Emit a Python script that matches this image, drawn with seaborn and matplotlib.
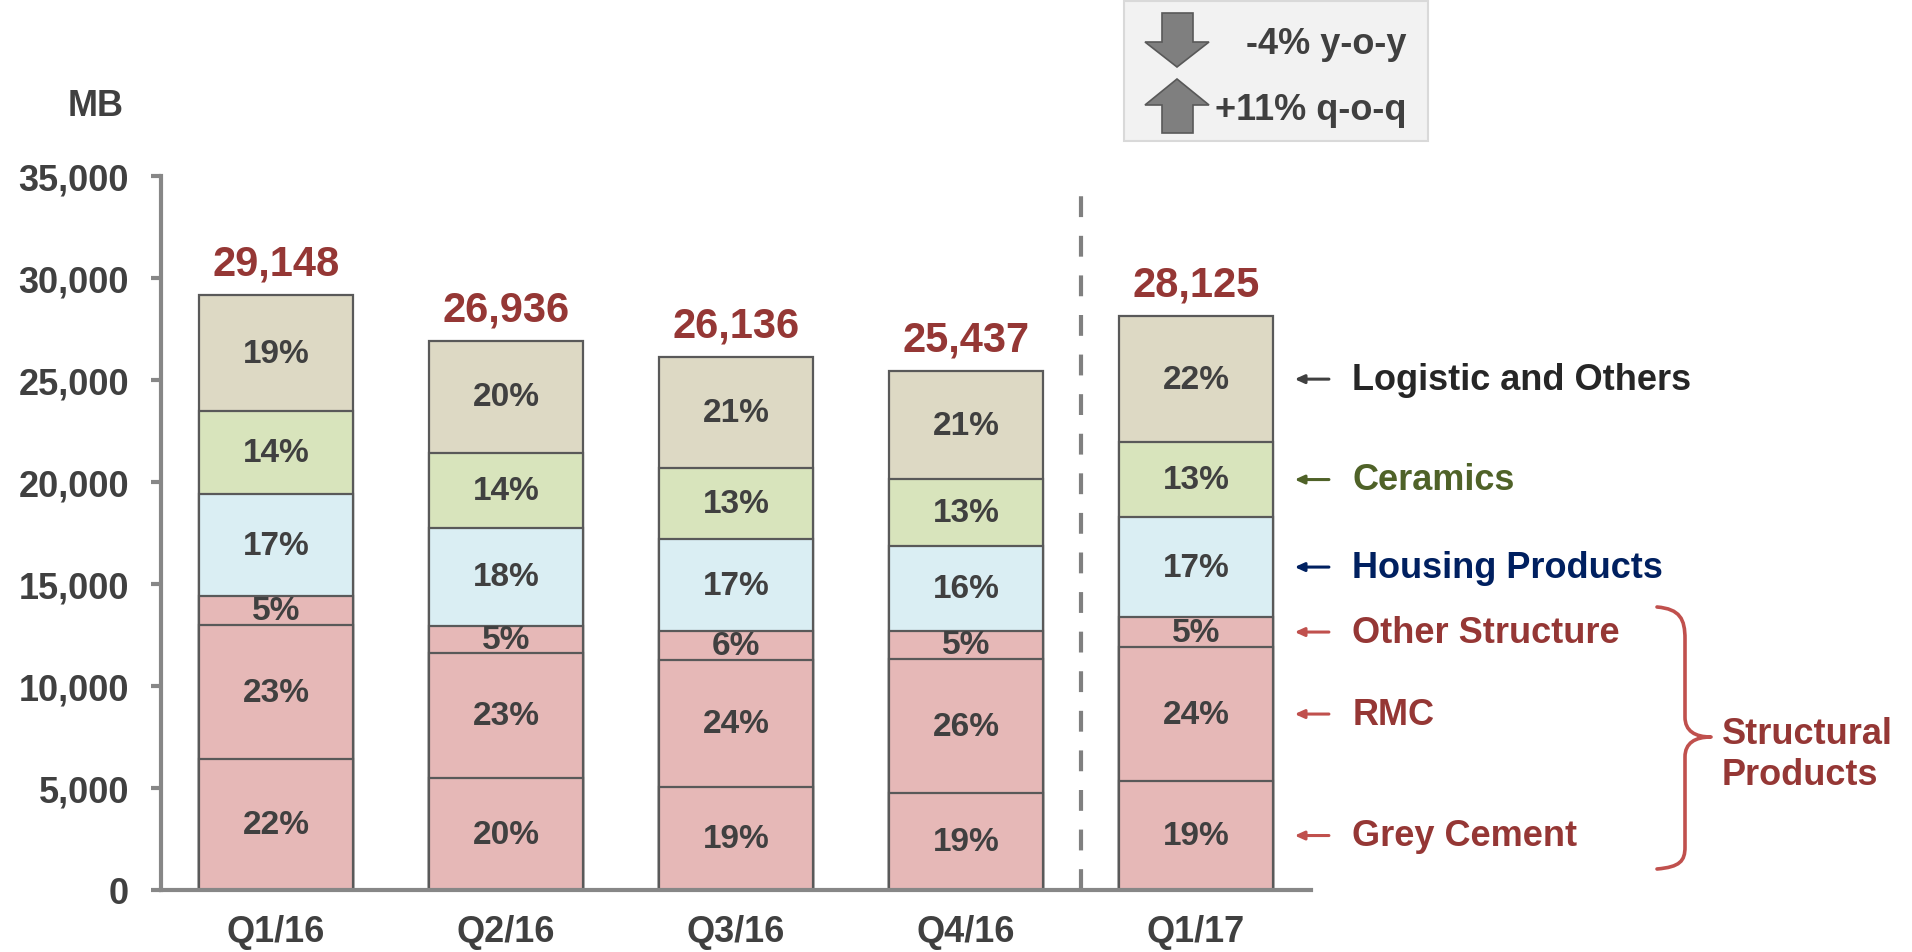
import matplotlib
matplotlib.use('Agg')
from matplotlib import pyplot as plt
from matplotlib.patches import Rectangle, Polygon, PathPatch
from matplotlib.path import Path
from matplotlib.ticker import FuncFormatter, FixedLocator
import numpy as np
import seaborn as sns

quarters = ['Q1/16', 'Q2/16', 'Q3/16', 'Q4/16', 'Q1/17']
totals = [29148, 26936, 26136, 25437, 28125]

# segment sizes (MB), bottom to top
grey_cement = [6420, 5490, 5050, 4750, 5340]
rmc = [6570, 6130, 6220, 6570, 6570]
other_structure = [1420, 1320, 1430, 1380, 1470]
housing = [5000, 4810, 4500, 4160, 4900]
ceramics = [4070, 3670, 3490, 3290, 3680]
logistic = [5668, 5516, 5446, 5287, 6165]

grey_cement_pct = ['22%', '20%', '19%', '19%', '19%']
rmc_pct = ['23%', '23%', '24%', '26%', '24%']
other_structure_pct = ['5%', '5%', '6%', '5%', '5%']
housing_pct = ['17%', '18%', '17%', '16%', '17%']
ceramics_pct = ['14%', '14%', '13%', '13%', '13%']
logistic_pct = ['19%', '20%', '21%', '21%', '22%']

segment_names = ['Grey Cement', 'RMC', 'Other Structure', 'Housing Products',
                 'Ceramics', 'Logistic and Others']
segments = [grey_cement, rmc, other_structure, housing, ceramics, logistic]
pct_labels = [grey_cement_pct, rmc_pct, other_structure_pct, housing_pct,
              ceramics_pct, logistic_pct]
fills = ['#E6B8B7', '#E6B8B7', '#E6B8B7', '#DAEEF3', '#D8E4BC', '#DDD9C4']
text_colors = ['#953735', '#953735', '#953735', '#002060', '#4F6228', '#262626']
arrow_colors = ['#C0504D', '#C0504D', '#C0504D', '#002060', '#4F6228', '#404040']

sns.set_style('white')
plt.rcParams['font.family'] = ['Liberation Sans', 'DejaVu Sans']
plt.rcParams['font.weight'] = 'bold'

fig = plt.figure(figsize=(19.12, 9.53), dpi=100)
ax = fig.add_axes([161 / 1912, 1 - 891 / 953, 1150 / 1912, 714 / 953])

vals = np.array(segments, dtype=float)
cum = np.cumsum(vals, axis=0)
bottoms = cum - vals

# stacked bars: draw cumulative heights from tallest to shortest
for k in range(len(segments) - 1, -1, -1):
    sns.barplot(x=quarters, y=cum[k], order=quarters, color=fills[k],
                saturation=1, width=0.67, edgecolor='#595959', linewidth=1.6,
                ax=ax)

for k in range(len(segments)):
    for i in range(len(quarters)):
        ax.text(i, bottoms[k, i] + vals[k, i] / 2, pct_labels[k][i],
                ha='center', va='center', fontsize=24, fontweight='bold',
                color='#404040')

for i, t in enumerate(totals):
    ax.text(i, t + 1000, f'{t:,}', ha='center', va='baseline', fontsize=30,
            fontweight='bold', color='#953735')

# divider before latest quarter
ax.vlines(len(quarters) - 1.5, 0, 34400, colors='#808080', lw=3,
          linestyles=(0, (5, 4.5)), zorder=0.5)

ax.set_xlim(-0.5, len(quarters) - 0.5)
ax.set_ylim(0, 35000)
ax.set_yticks(np.arange(0, 35001, 5000))
ax.yaxis.set_major_formatter(FuncFormatter(lambda v, _: f'{v:,.0f}'))
ax.xaxis.set_minor_locator(FixedLocator(np.arange(-0.5, len(quarters), 1.0)))
ax.tick_params(axis='x', which='major', length=0, pad=17, labelsize=26,
               labelcolor='#404040')
ax.tick_params(axis='x', which='minor', length=7, width=3, color='#878787',
               direction='out')
ax.tick_params(axis='y', length=7, width=3, color='#878787', direction='out',
               pad=16, labelsize=26, labelcolor='#404040')
ax.tick_params(left=True, bottom=True)
for lab in ax.get_xticklabels() + ax.get_yticklabels():
    lab.set_fontweight('bold')
ax.set_xlabel('')
ax.set_ylabel('')
for s in ['top', 'right']:
    ax.spines[s].set_visible(False)
for s in ['left', 'bottom']:
    ax.spines[s].set_color('#878787')
    ax.spines[s].set_linewidth(3)

# legend-like labels pointing at the last bar
last = len(quarters) - 1
for k in range(len(segments)):
    ymid = bottoms[k, last] + vals[k, last] / 2
    ax.annotate('', xy=(4.417, ymid), xytext=(4.59, ymid),
                arrowprops=dict(arrowstyle='-|>,head_length=0.55,head_width=0.25',
                                color=arrow_colors[k], lw=2.2),
                annotation_clip=False)
    ax.text(4.68, ymid, segment_names[k], ha='left', va='center', fontsize=26,
            fontweight='bold', color=text_colors[k], clip_on=False)

# overlay in pixel coordinates for decorations
ov = fig.add_axes([0, 0, 1, 1], facecolor='none')
ov.set_xlim(0, 1912)
ov.set_ylim(953, 0)
ov.axis('off')

ov.text(124, 107, 'MB', ha='right', va='center', fontsize=26,
        fontweight='bold', color='#404040')

# brace for structural products
brace = Path([(1657, 608), (1680, 610), (1685, 620), (1685, 640),
              (1685, 718), (1685, 732), (1695, 738), (1711, 738),
              (1695, 738), (1685, 744), (1685, 758),
              (1685, 848), (1685, 862), (1680, 868), (1657, 870)],
             [Path.MOVETO, Path.CURVE4, Path.CURVE4, Path.CURVE4,
              Path.LINETO, Path.CURVE4, Path.CURVE4, Path.CURVE4,
              Path.CURVE4, Path.CURVE4, Path.CURVE4,
              Path.LINETO, Path.CURVE4, Path.CURVE4, Path.CURVE4])
ov.add_patch(PathPatch(brace, fill=False, ec='#C0504D', lw=2.6,
                       capstyle='round', joinstyle='round'))
ov.text(1722, 755, 'Structural\nProducts', ha='left', va='center',
        fontsize=26, fontweight='bold', color='#953735', linespacing=1.2)

# change summary box
ov.add_patch(Rectangle((1124, 2), 304, 140, fc='#F2F2F2', ec='#D9D9D9', lw=1.5))
ov.add_patch(Polygon([(1162, 14), (1193, 14), (1193, 43), (1209, 43),
                      (1177, 68), (1145, 43), (1162, 43)],
                     closed=True, fc='#7F7F7F', ec='#595959', lw=1.2))
ov.add_patch(Polygon([(1177, 80), (1209, 106), (1193, 106), (1193, 134),
                      (1162, 134), (1162, 106), (1145, 106)],
                     closed=True, fc='#7F7F7F', ec='#595959', lw=1.2))
ov.text(1407, 45, '-4% y-o-y', ha='right', va='center', fontsize=26,
        fontweight='bold', color='#404040')
ov.text(1407, 110, '+11% q-o-q', ha='right', va='center', fontsize=26,
        fontweight='bold', color='#404040')

fig.savefig('out.png', dpi=100)
